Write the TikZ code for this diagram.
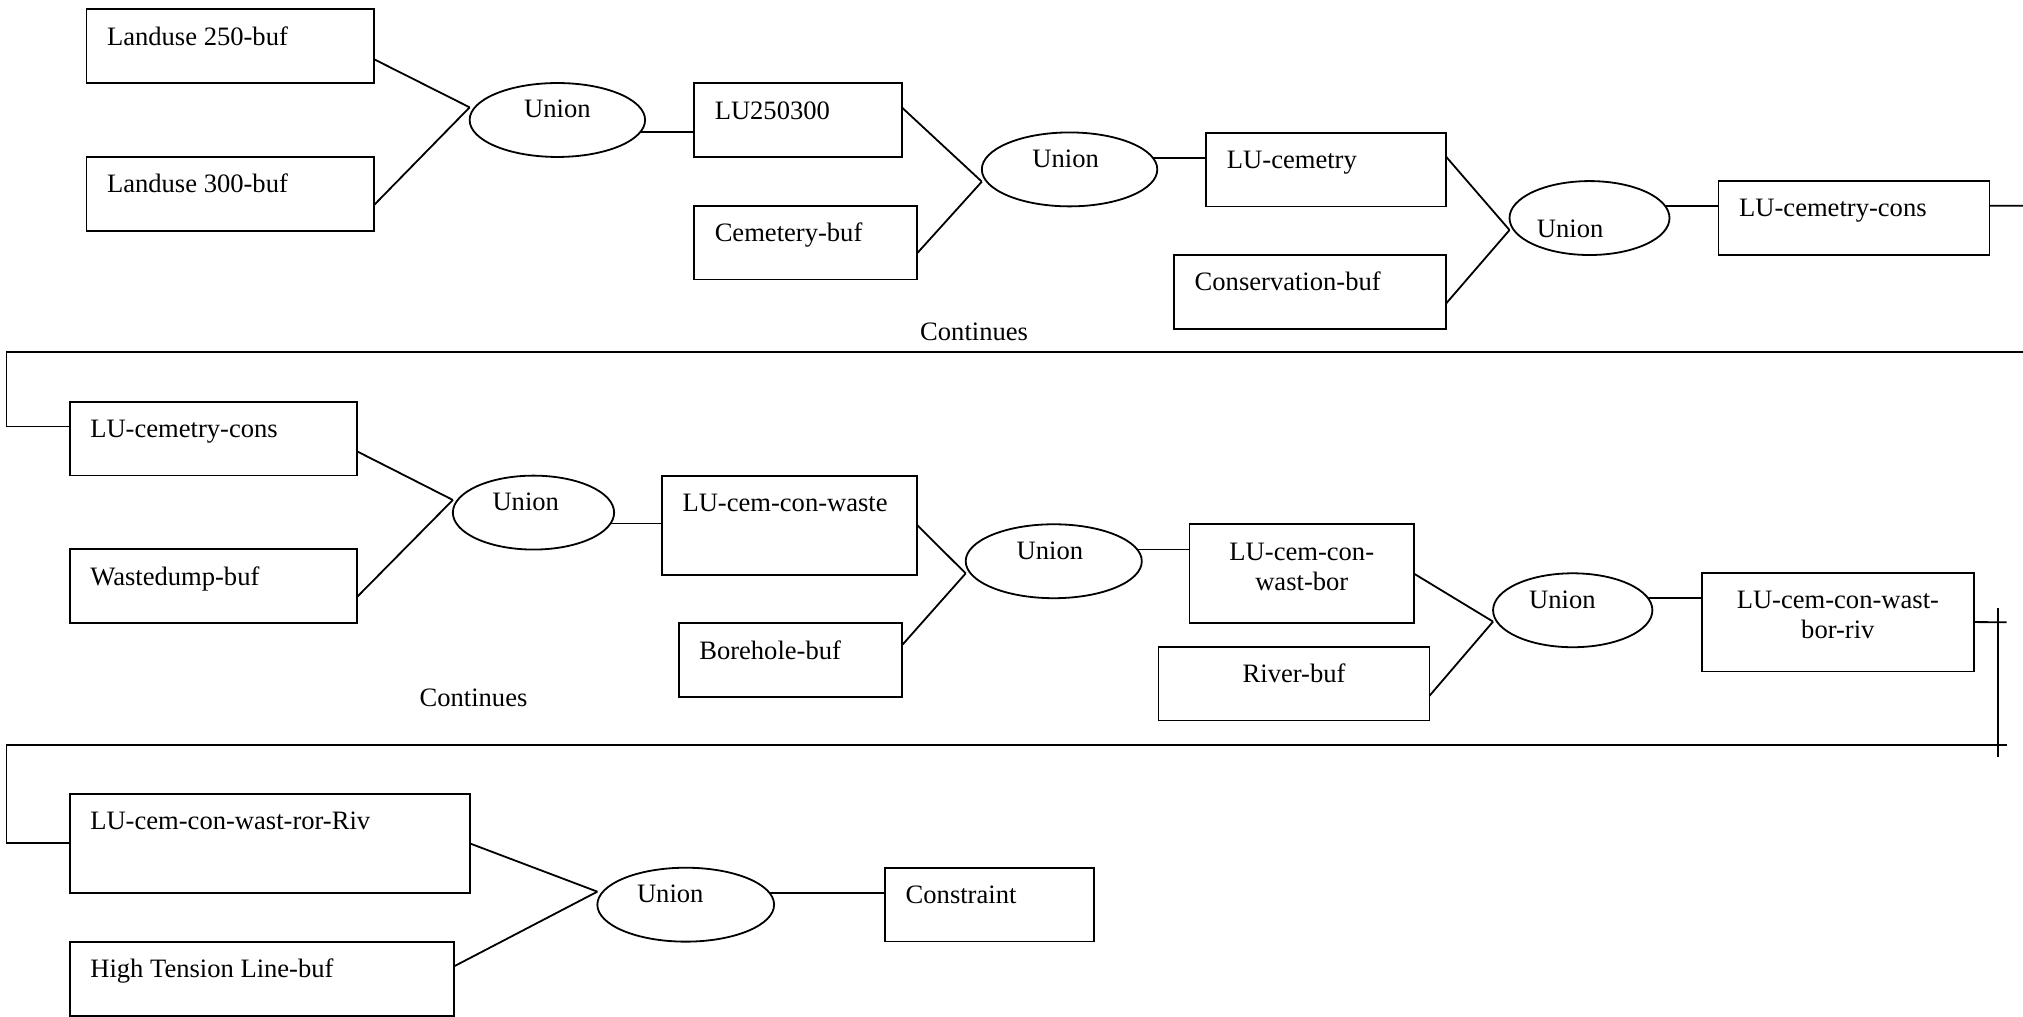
\documentclass[tikz,border=0pt]{standalone}
\usepackage{fontspec}
\setmainfont{Liberation Serif}
\usetikzlibrary{shapes.geometric}

\begin{document}
\begin{tikzpicture}[
    x=1pt, y=-1pt,
    line width=1.4pt,
    font=\fontsize{20.6pt}{23.5pt}\selectfont,
    box/.style={draw, rectangle, anchor=north west, outer sep=0pt, inner xsep=16pt, inner ysep=13.7pt, text height=14pt, text depth=15.9pt, align=flush left},
    tallbox/.style={box, text depth=35.1pt},
    union/.style={draw, ellipse, outer sep=0pt, inner sep=0pt, minimum height=57.3pt, text depth=17pt, align=flush left}
]
\useasboundingbox (0,0) rectangle (1568,787.5);

% Row 1
\node[box, text width=191pt] (lu250) at (67,7.2) {Landuse 250-buf};
\node[box, text width=191pt] (lu300) at (67,121.5) {Landuse 300-buf};
\node[union, minimum width=136pt] (u1) at (432,93) {Union};
\node[box, text width=129pt] (lu250300) at (538,64.6) {LU250300};
\node[box, text width=141pt] (cembuf) at (538,159.4) {Cemetery-buf};
\node[union, minimum width=136pt, text width=57.5pt] (u2) at (829,131.3) {Union};
\node[box, text width=154pt] (lucem) at (935,102.8) {LU-cemetry};
\node[box, text width=179pt] (consbuf) at (910,197.6) {Conservation-buf};
\node[union, minimum width=124pt, text width=81.5pt, text height=29.6pt, text depth=0pt] (u3) at (1232,169) {Union};
\node[box, text width=178pt] (lucemcons) at (1332,140.3) {LU-cemetry-cons};
\coordinate (edge1) at (1568,159.4);

\draw ([yshift=-10.1pt]lu250.east) -- ([yshift=9.8pt]u1.west);
\draw ([yshift=-8.7pt]lu300.east) -- ([yshift=9.8pt]u1.west);
\draw (u1.-8) -- (u1.-8 -| lu250300.west);
\draw ([yshift=10pt]lu250300.east) -- ([yshift=-9.5pt]u2.west);
\draw ([yshift=-8.1pt]cembuf.east) -- ([yshift=-9.5pt]u2.west);
\draw (u2.8) -- (u2.8 -| lucem.west);
\draw ([yshift=9.8pt]lucem.east) -- ([yshift=-9.3pt]u3.west);
\draw ([yshift=-8.8pt]consbuf.east) -- ([yshift=-9.3pt]u3.west);
\draw (u3.9) -- (u3.9 -| lucemcons.west);
\draw ([yshift=9.5pt]lucemcons.east) -- (edge1);

% Continues to row 2
\node (cont1) at (755,257.1) {Continues};
\coordinate (wrap1r) at (1568,272.6);
\coordinate (wrap1l) at (5,272.6);

% Row 2
\node[box, text width=191pt] (lucemcons2) at (54,311.3) {LU-cemetry-cons};
\node[box, text width=191pt] (wastebuf) at (54,425.8) {Wastedump-buf};
\node[union, minimum width=125pt, text width=63.5pt] (u4) at (413.5,397.3) {Union};
\node[tallbox, text width=166pt] (lucemconwaste) at (513,368.9) {LU-cem-con-waste};
\node[box, text width=141pt] (borebuf) at (526,483.1) {Borehole-buf};
\node[union, minimum width=136.5pt, text width=57.5pt] (u5) at (816.75,435) {Union};
\node[tallbox, text width=142pt, align=flush center] (lucemconwastbor) at (922,406.4) {LU-cem-con-\\wast-bor};
\node[box, text width=178pt, align=flush center] (riverbuf) at (898,501.2) {River-buf};
\node[union, minimum width=123.5pt, text width=67.5pt] (u6) at (1219,473) {Union};
\node[tallbox, text width=179pt, align=flush center] (lucemconwastborriv) at (1319,443.9) {LU-cem-con-wast-\\bor-riv};
\coordinate (edge2) at (1555.3,482.3);
\coordinate (vtop) at (1548.4,471.5);
\coordinate (vbot) at (1548.4,586.5);

\draw (wrap1r) -- (wrap1l) |- ([yshift=9.4pt]lucemcons2.west);
\draw ([yshift=-10pt]lucemcons2.east) -- ([yshift=9.8pt]u4.west);
\draw ([yshift=-8pt]wastebuf.east) -- ([yshift=9.8pt]u4.west);
\draw (u4.-8) -- (u4.-8 -| lucemconwaste.west);
\draw (lucemconwaste.east) -- ([yshift=-9.4pt]u5.west);
\draw ([yshift=11.5pt]borebuf.east) -- ([yshift=-9.4pt]u5.west);
\draw (u5.8) -- (u5.8 -| lucemconwastbor.west);
\draw (lucemconwastbor.east) -- ([yshift=-8.8pt]u6.west);
\draw ([yshift=-9.4pt]riverbuf.east) -- ([yshift=-8.8pt]u6.west);
\draw (u6.9) -- (u6.9 -| lucemconwastborriv.west);
\draw (lucemconwastborriv.east) -- (edge2);
\draw (vtop) -- (vbot);

% Continues to row 3
\node (cont2) at (367,541.2) {Continues};
\coordinate (wrap2r) at (1555.3,577.5);
\coordinate (wrap2l) at (5,577.5);

% Row 3
\node[tallbox, text width=278pt] (lucemconwastrorriv) at (54,615.4) {LU-cem-con-wast-ror-Riv};
\node[box, text width=266pt] (htbuf) at (54,729.9) {High Tension Line-buf};
\node[union, minimum width=137pt, text width=75.5pt] (u7) at (531.5,701.2) {Union};
\node[box, text width=130pt] (constraint) at (686,672.5) {Constraint};

\draw (wrap2r) -- (wrap2l) |- (lucemconwastrorriv.west);
\draw (lucemconwastrorriv.east) -- ([yshift=10.1pt]u7.west);
\draw ([yshift=9.6pt]htbuf.east) -- ([yshift=10.1pt]u7.west);
\draw (u7.8) -- (u7.8 -| constraint.west);

\end{tikzpicture}
\end{document}
